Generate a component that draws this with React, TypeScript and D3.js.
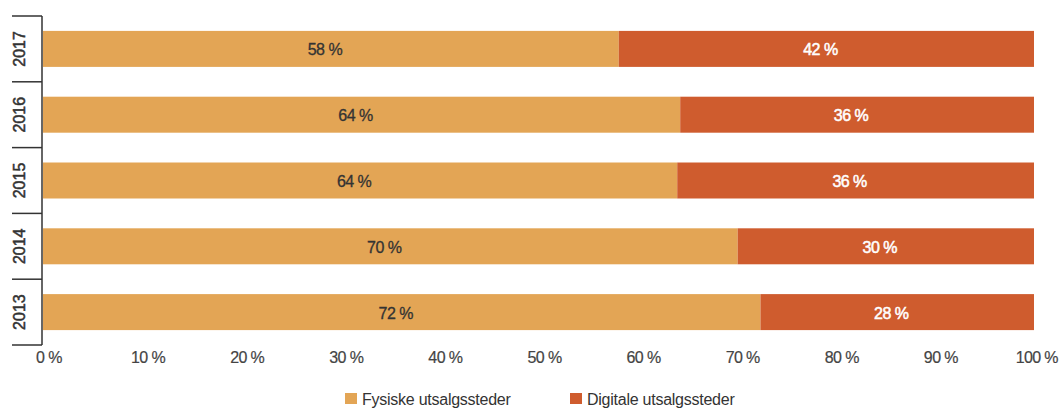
import React from "react";
import * as d3 from "d3";

const years = ["2017", "2016", "2015", "2014", "2013"];
const fysiske = [58.1, 64.3, 64.0, 70.1, 72.4];
const digitale = [41.9, 35.7, 36.0, 29.9, 27.6];
const fysiskeLabels = ["58 %", "64 %", "64 %", "70 %", "72 %"];
const digitaleLabels = ["42 %", "36 %", "36 %", "30 %", "28 %"];
const xTicks = [0, 10, 20, 30, 40, 50, 60, 70, 80, 90, 100];
const seriesNames = ["Fysiske utsalgssteder", "Digitale utsalgssteder"];
const colors = ["#E3A555", "#CF5C2E"];

const W = 1059;
const H = 408;
const FONT = "'Liberation Sans', Arial, Helvetica, sans-serif";

export default function App() {
  const x = d3.scaleLinear().domain([0, 100]).range([43, 1034]);
  const band = d3.scaleBand<string>().domain(years).range([16, 345]).padding(0);
  const barBand = d3
    .scaleBand<string>()
    .domain(years)
    .range([16, 345])
    .paddingInner(0.453)
    .paddingOuter(0.2265);
  const bh = barBand.bandwidth();

  const boundaries = years.map((y) => band(y)!).concat([345]);

  return (
    <svg
      width={W}
      height={H}
      style={{ position: "absolute", left: 0, top: 0, background: "#fff" }}
      fontFamily={FONT}
    >
      {/* bars */}
      {years.map((yr, i) => {
        const y0 = barBand(yr)!;
        const cy = y0 + bh / 2;
        const x0 = x(0);
        const x1 = x(fysiske[i]);
        const x2 = x(fysiske[i] + digitale[i]);
        return (
          <g key={yr}>
            <rect x={x0} y={y0} width={x1 - x0} height={bh} fill={colors[0]} />
            <rect x={x1} y={y0} width={x2 - x1} height={bh} fill={colors[1]} />
            <text
              x={(x0 + x1) / 2 - 6}
              y={cy + 6.5}
              textAnchor="middle"
              fontSize={16}
              fill="#333"
              stroke="#333"
              strokeWidth={0.3}
              letterSpacing={-0.5}
            >
              {fysiskeLabels[i]}
            </text>
            <text
              x={(x1 + x2) / 2 - 6}
              y={cy + 6.5}
              textAnchor="middle"
              fontSize={16}
              fill="#fff"
              stroke="#fff"
              strokeWidth={0.5}
              letterSpacing={-0.5}
            >
              {digitaleLabels[i]}
            </text>
          </g>
        );
      })}

      {/* y axis */}
      <line x1={42} x2={42} y1={16} y2={345} stroke="#333" strokeWidth={1.5} />
      {boundaries.map((b, i) => (
        <line key={i} x1={12} x2={42} y1={b} y2={b} stroke="#333" strokeWidth={1.5} />
      ))}
      {years.map((yr) => {
        const cy = band(yr)! + band.bandwidth() / 2;
        return (
          <text
            key={yr}
            transform={`translate(25,${cy}) rotate(-90)`}
            textAnchor="middle"
            fontSize={16}
            fill="#333"
            stroke="#333"
            strokeWidth={0.5}
          >
            {yr}
          </text>
        );
      })}

      {/* x tick labels */}
      {xTicks.map((t) => {
        const last = t === 100;
        return (
          <text
            key={t}
            x={last ? 1058 : x(t) + 6}
            y={363}
            textAnchor={last ? "end" : "middle"}
            fontSize={16}
            fill="#444"
            stroke="#444"
            strokeWidth={0.2}
            letterSpacing={-0.6}
          >
            {`${t} %`}
          </text>
        );
      })}

      {/* legend */}
      <rect x={345} y={393} width={12} height={11} fill={colors[0]} />
      <text x={362} y={405} fontSize={16} fill="#333" letterSpacing={-0.25}>
        {seriesNames[0]}
      </text>
      <rect x={570} y={393} width={12} height={11} fill={colors[1]} />
      <text x={587} y={405} fontSize={16} fill="#333" letterSpacing={-0.25}>
        {seriesNames[1]}
      </text>
    </svg>
  );
}
